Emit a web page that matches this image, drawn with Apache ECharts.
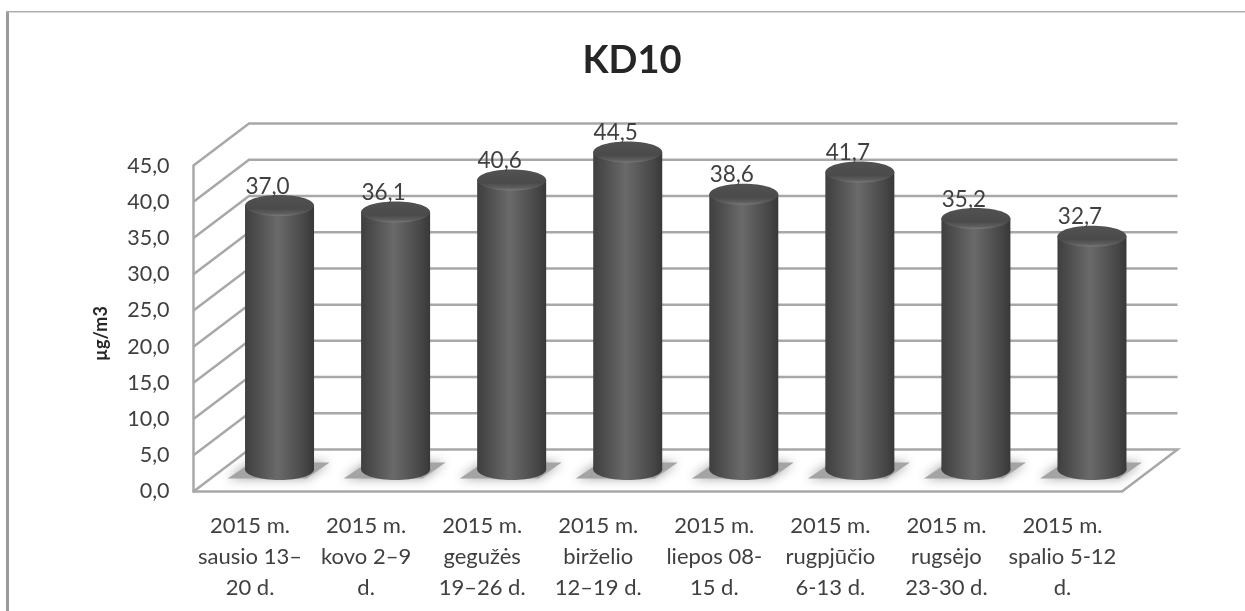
<!DOCTYPE html>
<html><head><meta charset="utf-8">
<style>html,body{margin:0;padding:0;background:#fff}#c{width:1245px;height:611px}</style>
<script src="https://cdn.jsdelivr.net/npm/echarts@6/dist/echarts.min.js"></script>
</head><body><div id="c"></div>
<script>
const categories = ["2015 m.\nsausio 13–\n20 d.","2015 m.\nkovo 2–9\nd.","2015 m.\ngegužės\n19–26 d.","2015 m.\nbirželio\n12–19 d.","2015 m.\nliepos 08-\n15 d.","2015 m.\nrugpjūčio\n6-13 d.","2015 m.\nrugsėjo\n23-30 d.","2015 m.\nspalio 5-12\nd."];
const values = [37.0,36.1,40.6,44.5,38.6,41.7,35.2,32.7];
const gridTicks = [0,5,10,15,20,25,30,35,40,45];
const titleText = "KD10";
const yName = "µg/m3";

const FONT = 'Lato, "Open Sans", sans-serif';
const DX = 55.5, DY = -42;
const BX = 28, BY = -22;
const HS = 0.985, RX = 34.5, RY = 10.5;
const TXT = '#404040', LINE = '#a8a8a8';
const fmt = v => v.toFixed(1).replace('.', ',');

const chart = echarts.init(document.getElementById('c'), null, {renderer:'canvas'});
chart.setOption({
  animation:false,
  backgroundColor:'#fff',
  title:{text:titleText,left:627,top:37,textAlign:'center',
    textStyle:{fontFamily:FONT,fontSize:38,fontWeight:'bold',color:'#262626'}},
  graphic:[
    {type:'rect',shape:{x:6,y:11,width:3,height:600},style:{fill:'#9a9a9a'},silent:true},
    {type:'rect',shape:{x:6,y:11,width:1239,height:1.5},style:{fill:'#b0b0b0'},silent:true}
  ],
  grid:{left:193.5,right:123,top:165.6,bottom:119.5,containLabel:false},
  xAxis:{type:'category',data:categories,boundaryGap:true,
    axisTick:{show:false},
    axisLine:{show:true,lineStyle:{color:LINE,width:2.5}},
    axisLabel:{interval:0,margin:19,fontFamily:FONT,fontSize:22,lineHeight:31,color:TXT,align:'center',padding:[0,3,0,0]}},
  yAxis:{type:'value',min:0,max:45,interval:5,
    name:yName,nameLocation:'middle',nameGap:83,nameRotate:90,
    nameTextStyle:{fontFamily:FONT,fontSize:18,fontWeight:'bold',color:'#262626',padding:[0,10,0,0]},
    splitLine:{show:false},axisTick:{show:false},
    axisLine:{show:true,lineStyle:{color:LINE,width:2.5}},
    axisLabel:{margin:24,fontFamily:FONT,fontSize:21.5,color:TXT,formatter:fmt,padding:[6,0,0,0]}},
  series:[
    {
      type:'custom',coordinateSystem:'cartesian2d',silent:true,z:1,
      data:gridTicks.map(t=>[0,t]),
      renderItem(params,api){
        const v = api.value(1);
        const p = api.coord([0,v]);
        const cs = params.coordSys;
        const x0 = cs.x, y = p[1], x1 = cs.x+cs.width;
        const pts = [[x0,y],[x0+DX,y+DY],[x1+DX,y+DY]];
        if (v===0) pts.push([x1,y]);
        return {type:'polyline',shape:{points:pts},
          style:{stroke:LINE,lineWidth:2.5,fill:null}};
      },
      encode:{x:0,y:1}
    },
    {
      type:'custom',coordinateSystem:'cartesian2d',silent:true,z:3,
      data:values.map((v,i)=>[i,v]),
      renderItem(params,api){
        const i = api.value(0), v = api.value(1);
        const c0 = api.coord([i,0]), c1 = api.coord([i,v]);
        const cx = c0[0]+BX, by = c0[1]+BY, ty = by-(c0[1]-c1[1])*HS;
        const bodyFill = new echarts.graphic.LinearGradient(0,0,1,0,[
          {offset:0,color:'#3f3f3f'},{offset:0.15,color:'#4c4c4c'},
          {offset:0.47,color:'#6a6a6a'},{offset:0.85,color:'#484848'},{offset:1,color:'#383838'}]);
        const topFill = new echarts.graphic.LinearGradient(0,0,0,1,[
          {offset:0,color:'#525252'},{offset:0.65,color:'#4a4a4a'},
          {offset:0.88,color:'#5e5e5e'},{offset:1,color:'#7a7a7a'}]);
        return {type:'group',children:[
          {type:'polygon',z2:1,shape:{points:[[cx-52,by+9],[cx-28,by-7],[cx+50,by-7],[cx+27,by+9]]},
            style:{fill:'#a4a4a4',shadowBlur:11,shadowColor:'#a0a0a0'}},
          {type:'ellipse',z2:2,shape:{cx:cx,cy:by,rx:RX,ry:RY},style:{fill:bodyFill}},
          {type:'rect',z2:3,shape:{x:cx-RX,y:ty,width:RX*2,height:by-ty},style:{fill:bodyFill}},
          {type:'ellipse',z2:4,shape:{cx:cx,cy:ty,rx:RX,ry:RY},style:{fill:topFill}},
          {type:'text',z2:5,style:{text:fmt(v),x:cx-12,y:ty-19,align:'center',verticalAlign:'middle',
            font:'22.5px '+FONT,fill:TXT}}
        ]};
      },
      encode:{x:0,y:1}
    }
  ]
});
</script></body></html>
